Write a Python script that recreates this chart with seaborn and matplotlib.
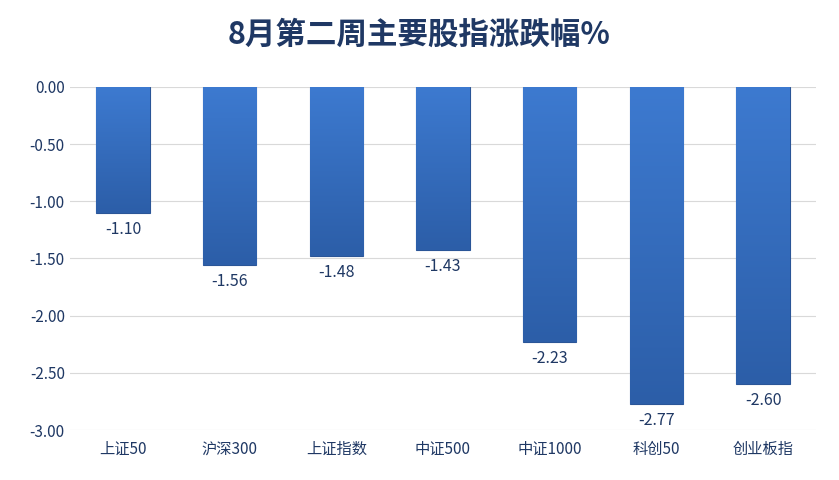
import numpy as np
import pandas as pd
import matplotlib
matplotlib.use("Agg")
import matplotlib.pyplot as plt
import seaborn as sns

plt.rcParams["font.family"] = ["Noto Sans CJK SC", "DejaVu Sans"]
plt.rcParams["axes.unicode_minus"] = False

categories = ["上证50", "沪深300", "上证指数", "中证500", "中证1000", "科创50", "创业板指"]
values = [-1.10, -1.56, -1.48, -1.43, -2.23, -2.77, -2.60]
yticks = [0.0, -0.5, -1.0, -1.5, -2.0, -2.5, -3.0]

df = pd.DataFrame({"name": categories, "value": values})
text_color = "#1f3864"

fig = plt.figure(figsize=(8.39, 4.8), dpi=100)
ax = fig.add_axes([0.083, 0.104, 0.89, 0.715])
sns.barplot(data=df, x="name", y="value", color="#3a72c4", width=0.5,
            edgecolor="#2a5597", linewidth=0.8, ax=ax, zorder=2)

# vertical gradient inside each bar
grad = np.linspace(0, 1, 256).reshape(-1, 1)
cmap = matplotlib.colors.LinearSegmentedColormap.from_list("g", ["#3d7ad0", "#2c5ea8"])
for p in ax.patches:
    x0, y0 = p.get_x(), p.get_y()
    w, h = p.get_width(), p.get_height()
    im = ax.imshow(grad, cmap=cmap, aspect="auto", zorder=3,
                   extent=[x0, x0 + w, y0 + h, y0])
    im.set_clip_path(p)

ax.set_ylim(-3.0, 0.0)
ax.set_xlim(-0.5, len(categories) - 0.5)
ax.set_yticks(yticks)
ax.set_yticklabels([f"{v:.2f}" for v in yticks])
ax.grid(axis="y", color="#d9d9d9", linewidth=0.8, zorder=0)
ax.set_axisbelow(True)
for s in ax.spines.values():
    s.set_visible(False)
ax.tick_params(length=0, colors=text_color, labelsize=11)
ax.tick_params(axis="x", pad=8)
ax.set_xlabel("")
ax.set_ylabel("")

for i, v in enumerate(values):
    ax.text(i, v - 0.07, f"{v:.2f}", ha="center", va="top", fontsize=11.5, color=text_color)

fig.suptitle("8月第二周主要股指涨跌幅%", x=0.5, y=0.96, fontsize=22,
             fontweight="bold", color=text_color)
fig.savefig("out.png", dpi=100)
